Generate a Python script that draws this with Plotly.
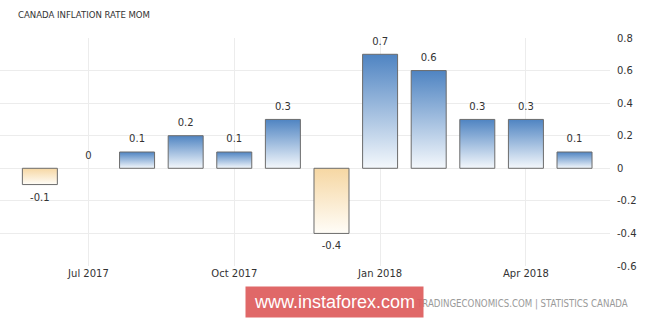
import plotly.graph_objects as go

months = ["Jun 2017", "Jul 2017", "Aug 2017", "Sep 2017", "Oct 2017", "Nov 2017",
          "Dec 2017", "Jan 2018", "Feb 2018", "Mar 2018", "Apr 2018", "May 2018"]
values = [-0.1, 0.0, 0.1, 0.2, 0.1, 0.3, -0.4, 0.7, 0.6, 0.3, 0.3, 0.1]
tick_labels = ["Jul 2017", "Oct 2017", "Jan 2018", "Apr 2018"]
y_ticks = [0.8, 0.6, 0.4, 0.2, 0, -0.2, -0.4, -0.6]

BAR_W = 0.72
pos_scale = [[0, "#f4f8fc"], [1, "#4f84c2"]]
neg_scale = [[0, "#fffdf8"], [1, "#f6d7a3"]]

fig = go.Figure()
xs = list(range(len(months)))
for i, v in zip(xs, values):
    if v == 0:
        continue
    x0, x1 = i - BAR_W / 2, i + BAR_W / 2
    fig.add_trace(go.Scatter(
        x=[x0, x0, x1, x1, x0], y=[0, v, v, 0, 0],
        mode="lines", fill="toself",
        line=dict(color="#6b6b6b", width=1),
        fillgradient=dict(type="vertical", colorscale=pos_scale if v > 0 else neg_scale),
        hoverinfo="skip", showlegend=False))

pos_x = [i for i, v in zip(xs, values) if v >= 0]
pos_v = [v for v in values if v >= 0]
neg_x = [i for i, v in zip(xs, values) if v < 0]
neg_v = [v for v in values if v < 0]
lbl_font = dict(family="DejaVu Sans", size=10, color="#333333")
fig.add_trace(go.Scatter(x=pos_x, y=pos_v, mode="markers+text", cliponaxis=False,
                         marker=dict(size=10, color="rgba(0,0,0,0)"),
                         text=[f"{v:g}" for v in pos_v], textposition="top center",
                         textfont=lbl_font, showlegend=False, hoverinfo="skip"))
fig.add_trace(go.Scatter(x=neg_x, y=neg_v, mode="markers+text", cliponaxis=False,
                         marker=dict(size=12, color="rgba(0,0,0,0)"),
                         text=[f"{v:g}" for v in neg_v], textposition="bottom center",
                         textfont=lbl_font, showlegend=False, hoverinfo="skip"))

fig.update_layout(
    width=665, height=318,
    margin=dict(l=0, r=55, t=38, b=52),
    paper_bgcolor="white", plot_bgcolor="white",
    font=dict(family="DejaVu Sans", size=10, color="#333333"),
    xaxis=dict(range=[-0.82, 11.73], tickmode="array",
               tickvals=[months.index(t) for t in tick_labels], ticktext=tick_labels,
               showgrid=True, gridcolor="#ececec", gridwidth=1, zeroline=False,
               showline=False, ticks="", tickfont=dict(size=10, color="#333333")),
    yaxis=dict(range=[-0.6, 0.8], side="right", tickmode="array", tickvals=y_ticks,
               ticktext=[f"{t:g}" for t in y_ticks],
               showgrid=True, gridcolor="#ececec", gridwidth=1, zeroline=False,
               showline=False, ticks="", ticklabelstandoff=6,
               tickfont=dict(size=10, color="#333333")),
    annotations=[
        dict(text="CANADA INFLATION RATE MOM", xref="paper", yref="paper",
             x=0, y=1, xshift=16, yshift=24, xanchor="left", yanchor="middle",
             showarrow=False, font=dict(family="DejaVu Sans Condensed", size=9.5, color="#333333")),
        dict(text="TRADINGECONOMICS.COM | STATISTICS CANADA", xref="paper", yref="paper",
             x=1, y=0, xshift=20, yshift=-38, xanchor="right", yanchor="middle",
             showarrow=False, font=dict(family="DejaVu Sans Condensed", size=9.6, color="#9a9a9a")),
        dict(text="www.instaforex.com", xref="paper", yref="paper",
             x=0, y=0, xshift=245, yshift=-36, xanchor="left", yanchor="middle",
             showarrow=False, bgcolor="rgba(222,92,92,0.93)", borderpad=5, width=167,
             font=dict(family="Liberation Sans", size=18, color="white")),
    ],
)

fig.write_html("out.html")
